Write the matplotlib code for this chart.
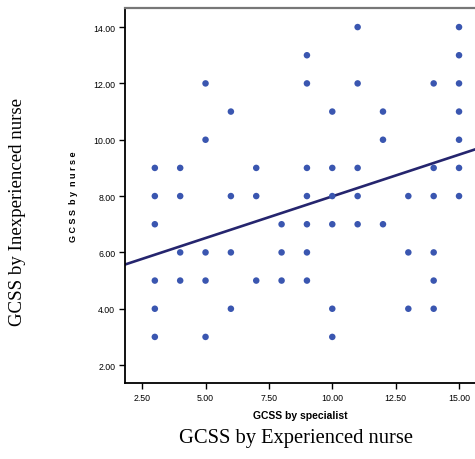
import matplotlib
matplotlib.use("Agg")
import matplotlib.pyplot as plt


# GCSS by specialist (x) and GCSS by nurse (y), one entry per visible dot
specialist = (
    [3] * 6 + [4] * 4 + [5] * 5 + [6] * 4 + [7] * 3 + [8] * 3 + [9] * 7
    + [10] * 6 + [11] * 5 + [12] * 3 + [13] * 3 + [14] * 6 + [15] * 7
)
nurse = [
    3, 4, 5, 7, 8, 9,
    5, 6, 8, 9,
    3, 5, 6, 10, 12,
    4, 6, 8, 11,
    5, 8, 9,
    5, 6, 7,
    5, 6, 7, 8, 9, 12, 13,
    3, 4, 7, 8, 9, 11,
    7, 8, 9, 12, 14,
    7, 10, 11,
    4, 6, 8,
    4, 5, 6, 8, 9, 12,
    8, 9, 10, 11, 12, 13, 14,
]

# fit line
fit_intercept = 5.03
fit_slope = 0.296

x_ticks = [2.5, 5.0, 7.5, 10.0, 12.5, 15.0]
y_ticks = [2, 4, 6, 8, 10, 12, 14]

narrow = ["Liberation Sans Narrow", "Liberation Sans", "DejaVu Sans"]
serif = ["Liberation Serif", "DejaVu Serif"]

fig = plt.figure(figsize=(4.75, 4.6), dpi=100)
ax = fig.add_axes([0.263, 0.165, 0.737, 0.815])

ax.scatter(specialist, nurse, s=22, color="#3a56b0", edgecolors="none", zorder=3)

xlim = (1.82, 15.63)
ax.plot(
    xlim,
    [fit_intercept + fit_slope * v for v in xlim],
    color="#25256e",
    linewidth=1.9,
    zorder=2,
)

ax.set_xlim(xlim)
ax.set_ylim(1.36, 14.67)
ax.set_xticks(x_ticks)
ax.set_yticks(y_ticks)
ax.set_xticklabels([f"{v:.2f}" for v in x_ticks], family=narrow, fontsize=6.3)
ax.set_yticklabels([f"{v:.2f}" for v in y_ticks], family=narrow, fontsize=6.3)
ax.tick_params(direction="out", length=4, width=1, pad=3)

ax.spines["right"].set_visible(False)
ax.spines["top"].set_color("#777777")
ax.spines["top"].set_linewidth(1.6)
ax.spines["left"].set_linewidth(1.3)
ax.spines["bottom"].set_linewidth(1.3)

ax.set_xlabel("GCSS by specialist", family=narrow, fontsize=7.5,
              fontweight="bold", labelpad=6)
ax.set_ylabel("G C S S  b y  n u r s e", family=narrow, fontsize=6.5,
              fontweight="bold", labelpad=11)

fig.text(0.036, 0.54, "GCSS by Inexperienced nurse", family=serif,
         fontsize=13.6, rotation=90, ha="center", va="center")
fig.text(0.623, 0.046, "GCSS by Experienced nurse", family=serif,
         fontsize=14.8, ha="center", va="center")

fig.savefig("out.png", dpi=100)
